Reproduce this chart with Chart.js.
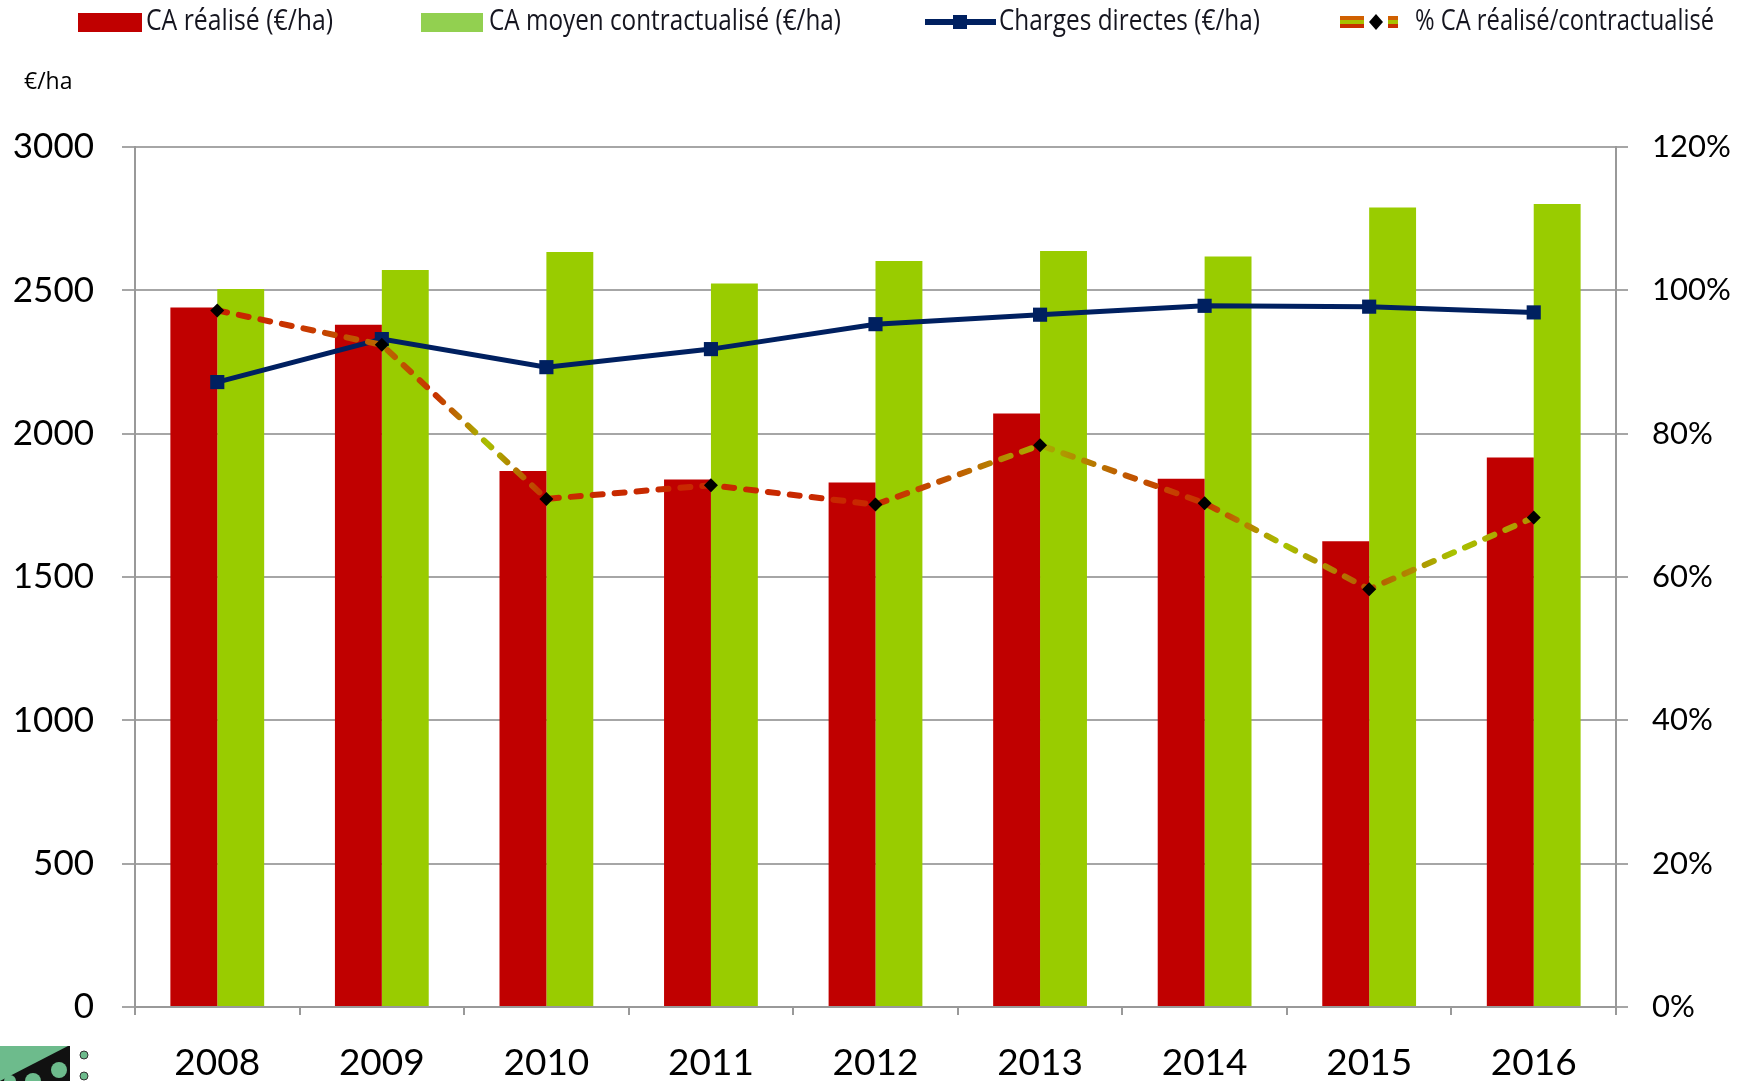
<!DOCTYPE html>
<html>
<head>
<meta charset="utf-8">
<script src="https://cdn.jsdelivr.net/npm/chart.js@4.4.1/dist/chart.umd.min.js"></script>
<style>
  html, body { margin: 0; padding: 0; background: #fff; }
  #wrap { width: 1754px; height: 1081px; }
</style>
</head>
<body>
<div id="wrap"><canvas id="chart" width="1754" height="1081"></canvas></div>
<script>
// data
const years = ['2008', '2009', '2010', '2011', '2012', '2013', '2014', '2015', '2016'];
const caRealise = [2440, 2380, 1870, 1840, 1830, 2070, 1843, 1625, 1917];
const caMoyen = [2505, 2571, 2634, 2524, 2602, 2637, 2618, 2789, 2801];
const chargesDirectes = [2180, 2330, 2232, 2295, 2382, 2415, 2446, 2443, 2423];
const pctRealise = [0.972, 0.924, 0.709, 0.728, 0.701, 0.784, 0.703, 0.583, 0.683];

const legendLabels = ['CA réalisé (€/ha)', 'CA moyen contractualisé (€/ha)', 'Charges directes (€/ha)', '% CA réalisé/contractualisé'];
const unitLabel = '€/ha';

const RED = '#c00000';
const GREEN = '#99cc00';
const NAVY = '#002060';
const GRID = '#a6a6a6';
const AXIS = '#999999';
const tickFont = '"Lato", "Open Sans", sans-serif';

// colour stops along the dashed line (fraction of 2008 -> 2016)
const pctStops = [
    [0.00, '#c82000'], [0.07, '#c83a00'], [0.125, '#b86a00'], [0.165, '#c83000'],
    [0.205, '#a8c000'], [0.235, '#b85a00'], [0.25, '#c82a00'], [0.50, '#c82800'],
    [0.56, '#c05a00'], [0.625, '#a8b000'], [0.69, '#c05800'], [0.75, '#c83000'],
    [0.81, '#a8c400'], [0.875, '#b85000'], [0.94, '#a8c400'], [1.00, '#b09000']
];

function pctGradient(context) {
    const chart = context.chart;
    const xs = chart.scales.x;
    if (!chart.chartArea || !xs) return '#c82000';
    const x0 = xs.getPixelForValue(0);
    const x1 = xs.getPixelForValue(years.length - 1);
    const g = chart.ctx.createLinearGradient(x0, 0, x1, 0);
    pctStops.forEach(s => g.addColorStop(s[0], s[1]));
    return g;
}

// legend + unit label + corner logo, drawn on the canvas
const decorPlugin = {
    id: 'decor',
    afterDraw(chart) {
        const c = chart.ctx;
        c.save();
        const ty = 22;
        c.textBaseline = 'middle';
        c.font = '29px "Open Sans", sans-serif';

        c.fillStyle = RED;
        c.fillRect(78, 13, 64, 19);
        c.fillStyle = '#15151f';
        c.fillText(legendLabels[0], 146, ty, 187);

        c.fillStyle = '#92d050';
        c.fillRect(421, 13, 62, 19);
        c.fillStyle = '#15151f';
        c.fillText(legendLabels[1], 489, ty, 352);

        c.strokeStyle = NAVY;
        c.lineWidth = 6;
        c.beginPath(); c.moveTo(925, ty); c.lineTo(996, ty); c.stroke();
        c.fillStyle = NAVY;
        c.fillRect(953, ty - 7, 14, 14);
        c.fillStyle = '#15151f';
        c.fillText(legendLabels[2], 999, ty, 261);

        // small striped dashes with a diamond in the middle
        const stripes = ['#d06000', '#a8c000', '#c83000'];
        [[1340, 1364], [1388, 1398]].forEach(seg => {
            stripes.forEach((col, i) => {
                c.fillStyle = col;
                c.fillRect(seg[0], ty - 6 + i * 4, seg[1] - seg[0], 4);
            });
        });
        c.fillStyle = '#000';
        c.beginPath();
        c.moveTo(1376, ty - 8); c.lineTo(1383, ty); c.lineTo(1376, ty + 8); c.lineTo(1369, ty);
        c.closePath(); c.fill();
        c.fillStyle = '#15151f';
        c.fillText(legendLabels[3], 1415, ty, 299);

        c.fillStyle = '#000';
        c.font = '23px "Open Sans", sans-serif';
        c.fillText(unitLabel, 24, 82);

        // corner logo (partly cut off)
        c.fillStyle = '#111';
        c.fillRect(0, 1046, 70, 35);
        c.fillStyle = '#6dbb8c';
        c.beginPath(); c.moveTo(0, 1046); c.lineTo(68, 1046); c.lineTo(0, 1081); c.closePath(); c.fill();
        [[59, 1070, 8], [33, 1081, 8], [10, 1081, 6]].forEach(p => {
            c.beginPath(); c.arc(p[0], p[1], p[2], 0, Math.PI * 2); c.fill();
        });
        c.strokeStyle = '#333'; c.lineWidth = 1;
        [[84, 1055], [84, 1076]].forEach(p => {
            c.beginPath(); c.arc(p[0], p[1], 4, 0, Math.PI * 2); c.fill(); c.stroke();
        });
        c.restore();
    }
};

new Chart(document.getElementById('chart'), {
    data: {
        labels: years,
        datasets: [
            {
                type: 'line',
                label: legendLabels[3],
                data: pctRealise,
                yAxisID: 'y2',
                order: 0,
                borderColor: pctGradient,
                borderWidth: 6,
                borderDash: [10, 12],
                borderCapStyle: 'round',
                pointStyle: 'rectRot',
                pointRadius: 7,
                pointBackgroundColor: '#000',
                pointBorderColor: '#000',
                pointBorderWidth: 0,
                tension: 0
            },
            {
                type: 'line',
                label: legendLabels[2],
                data: chargesDirectes,
                yAxisID: 'y',
                order: 1,
                borderColor: NAVY,
                borderWidth: 5,
                pointStyle: 'rect',
                pointRadius: 10,
                pointBackgroundColor: NAVY,
                pointBorderColor: NAVY,
                pointBorderWidth: 0,
                tension: 0
            },
            {
                type: 'bar',
                label: legendLabels[0],
                data: caRealise,
                yAxisID: 'y',
                order: 2,
                backgroundColor: RED,
                categoryPercentage: 0.57,
                barPercentage: 1.0
            },
            {
                type: 'bar',
                label: legendLabels[1],
                data: caMoyen,
                yAxisID: 'y',
                order: 3,
                backgroundColor: GREEN,
                categoryPercentage: 0.57,
                barPercentage: 1.0
            }
        ]
    },
    options: {
        responsive: false,
        animation: false,
        devicePixelRatio: 1,
        layout: { padding: { top: 147, left: 0, right: 0, bottom: 0 } },
        plugins: {
            legend: { display: false },
            tooltip: { enabled: false }
        },
        scales: {
            x: {
                offset: true,
                grid: { display: true, drawOnChartArea: false, offset: true, tickLength: 8, color: AXIS, lineWidth: 2 },
                border: { color: AXIS, width: 2 },
                ticks: { color: '#000', font: { family: tickFont, size: 37 }, padding: 26, maxRotation: 0 },
                afterFit(scale) { scale.height = 74; }
            },
            y: {
                position: 'left',
                min: 0,
                max: 3000,
                grid: { color: GRID, lineWidth: 2, tickLength: 13 },
                border: { color: AXIS, width: 2 },
                ticks: { stepSize: 500, color: '#000', font: { family: tickFont, size: 35 }, padding: 28, callback: v => String(v) },
                afterFit(scale) { scale.width = 135; }
            },
            y2: {
                position: 'right',
                min: 0,
                max: 1.2,
                grid: { drawOnChartArea: false, color: GRID, lineWidth: 2, tickLength: 12 },
                border: { color: AXIS, width: 2 },
                ticks: {
                    stepSize: 0.2,
                    color: '#000',
                    font: { family: tickFont, size: 31 },
                    padding: 24,
                    callback: v => Math.round(v * 100) + '%'
                },
                afterFit(scale) { scale.width = 138; }
            }
        }
    },
    plugins: [decorPlugin]
});
</script>
</body>
</html>
